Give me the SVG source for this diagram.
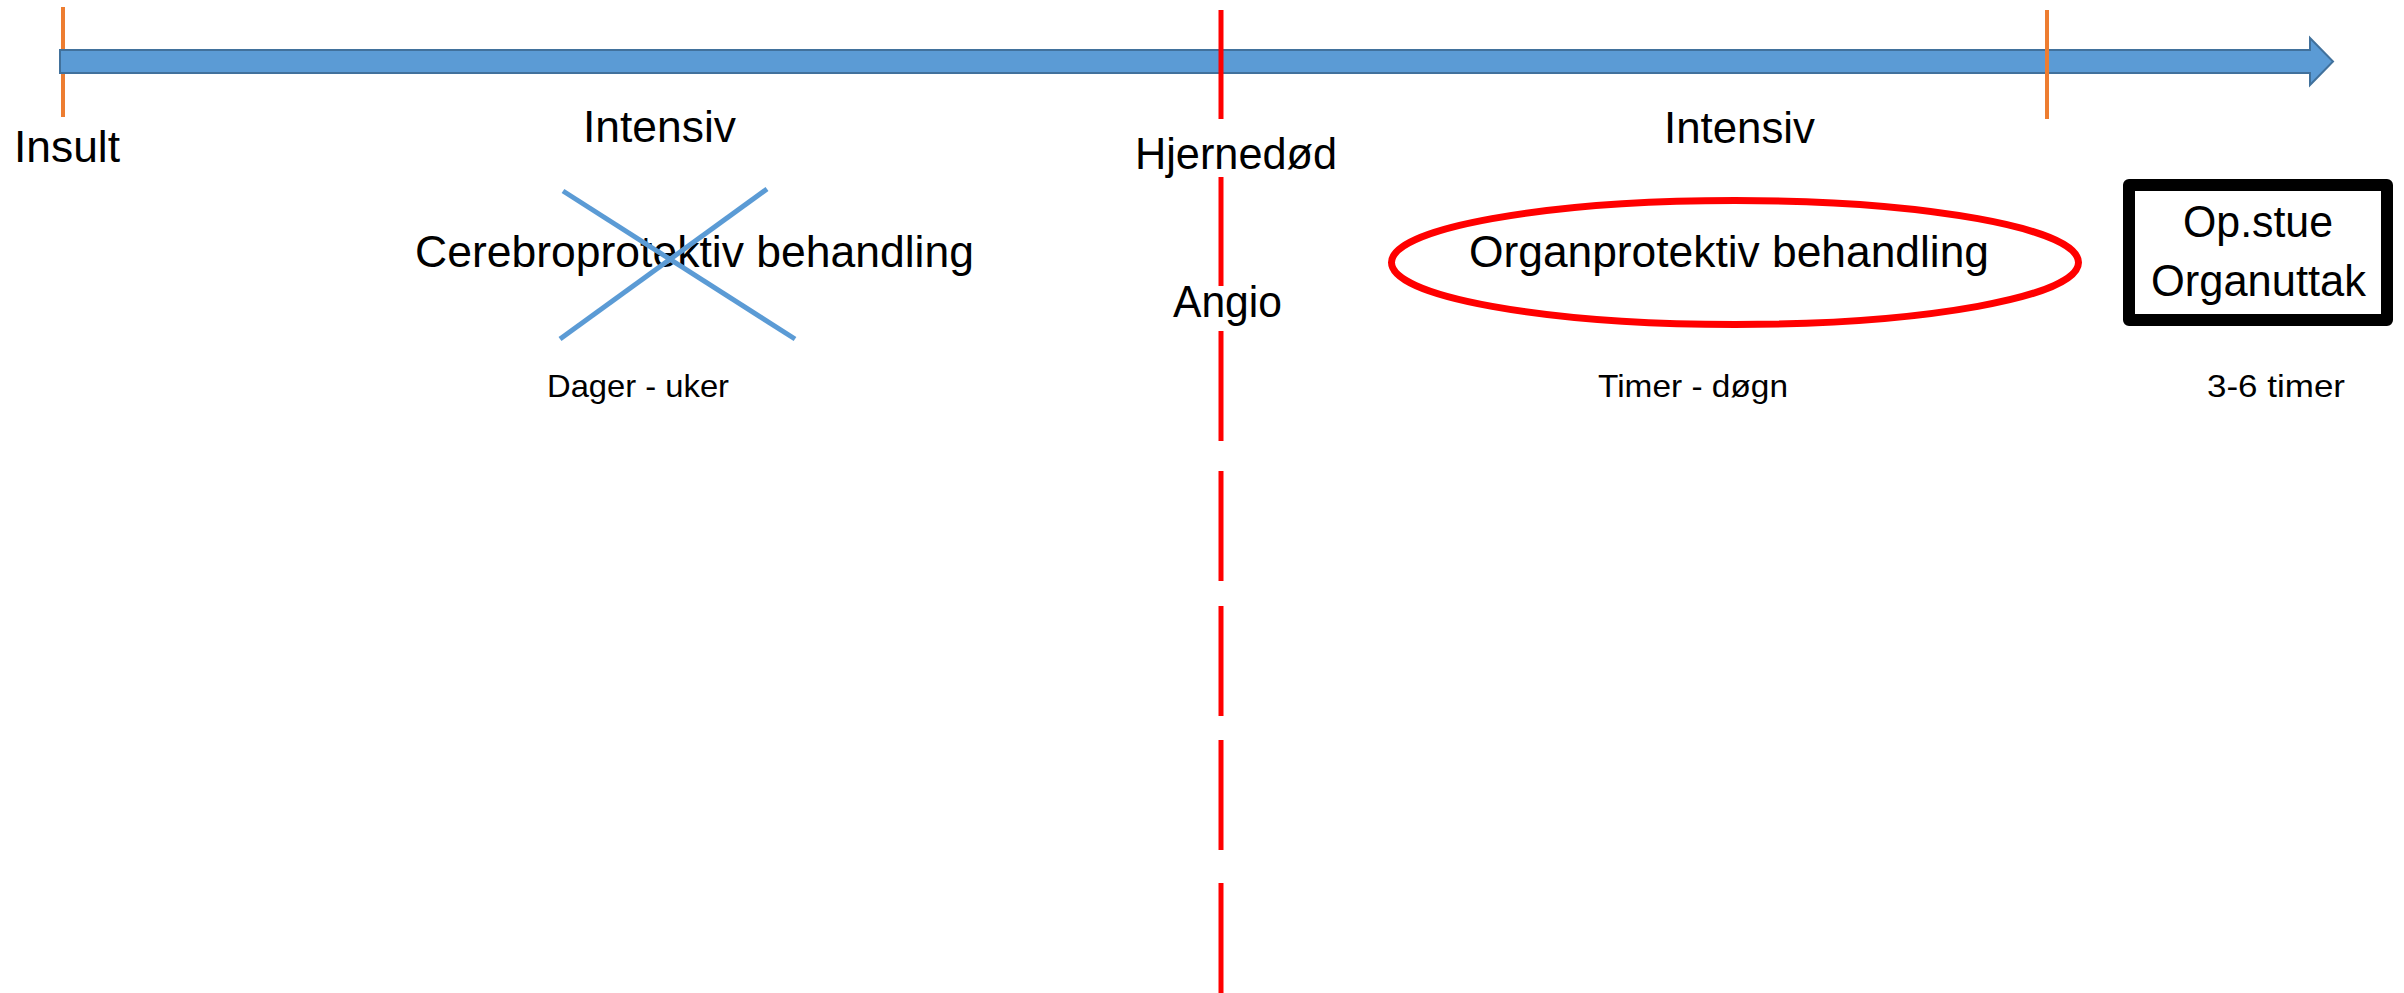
<svg xmlns="http://www.w3.org/2000/svg" width="2404" height="993" viewBox="0 0 2404 993">
<style>
.t{font-family:"Liberation Sans",Arial,sans-serif;fill:#000;}
.big{font-size:44px;}
.small{font-size:32px;}
.tick{stroke:#ED7D31;stroke-width:4;fill:none;}
.red{stroke:#FF0000;stroke-width:5;fill:none;}
.cross{stroke:#5B9BD5;stroke-width:5;fill:none;}
</style>
<rect width="2404" height="993" fill="#fff"/>
<g id="timeline">
<line class="tick" x1="63" y1="7" x2="63" y2="117"/>
<path d="M60,50 H2310 V38 L2333,61.5 L2310,85 V73 H60 Z" fill="#5B9BD5" stroke="#41719C" stroke-width="2"/>
<line class="tick" x1="2047" y1="10" x2="2047" y2="119"/>
</g>
<g id="connectors">
<g id="braindeath-line" class="red">
<line x1="1221" y1="10" x2="1221" y2="119"/>
<line x1="1221" y1="177" x2="1221" y2="286"/>
<line x1="1221" y1="331" x2="1221" y2="441"/>
<line x1="1221" y1="471" x2="1221" y2="581"/>
<line x1="1221" y1="606" x2="1221" y2="716"/>
<line x1="1221" y1="740" x2="1221" y2="850"/>
<line x1="1221" y1="883" x2="1221" y2="993"/>
</g>
</g>
<g id="insult"><text class="t big" x="14" y="162" textLength="106" lengthAdjust="spacingAndGlyphs">Insult</text></g>
<g id="intensiv-1"><text class="t big" x="583" y="142" textLength="153" lengthAdjust="spacingAndGlyphs">Intensiv</text></g>
<g id="hjernedod"><text class="t big" x="1135" y="169" textLength="202" lengthAdjust="spacingAndGlyphs">Hjernedød</text></g>
<g id="angio"><text class="t big" x="1173" y="317" textLength="109" lengthAdjust="spacingAndGlyphs">Angio</text></g>
<g id="intensiv-2"><text class="t big" x="1664" y="143" textLength="151" lengthAdjust="spacingAndGlyphs">Intensiv</text></g>
<g id="cerebro">
<text class="t big" x="415" y="267" textLength="559" lengthAdjust="spacingAndGlyphs">Cerebroprotektiv behandling</text>
<line class="cross" x1="563" y1="191" x2="795" y2="339"/>
<line class="cross" x1="767" y1="189" x2="560" y2="339"/>
</g>
<g id="dager"><text class="t small" x="547" y="397" textLength="182" lengthAdjust="spacingAndGlyphs">Dager - uker</text></g>
<g id="organ">
<ellipse cx="1735" cy="262.5" rx="343.5" ry="62" fill="none" stroke="#FF0000" stroke-width="7"/>
<text class="t big" x="1469" y="267" textLength="520" lengthAdjust="spacingAndGlyphs">Organprotektiv behandling</text>
</g>
<g id="timer"><text class="t small" x="1598" y="397" textLength="190" lengthAdjust="spacingAndGlyphs">Timer - døgn</text></g>
<g id="opstue">
<rect x="2129" y="185" width="258" height="135" fill="#fff" stroke="#000" stroke-width="12" stroke-linejoin="round"/>
<text class="t big" x="2183" y="237" textLength="150" lengthAdjust="spacingAndGlyphs">Op.stue</text>
<text class="t big" x="2151" y="296" textLength="215" lengthAdjust="spacingAndGlyphs">Organuttak</text>
</g>
<g id="timer36"><text class="t small" x="2207" y="397" textLength="138" lengthAdjust="spacingAndGlyphs">3-6 timer</text></g>
</svg>
